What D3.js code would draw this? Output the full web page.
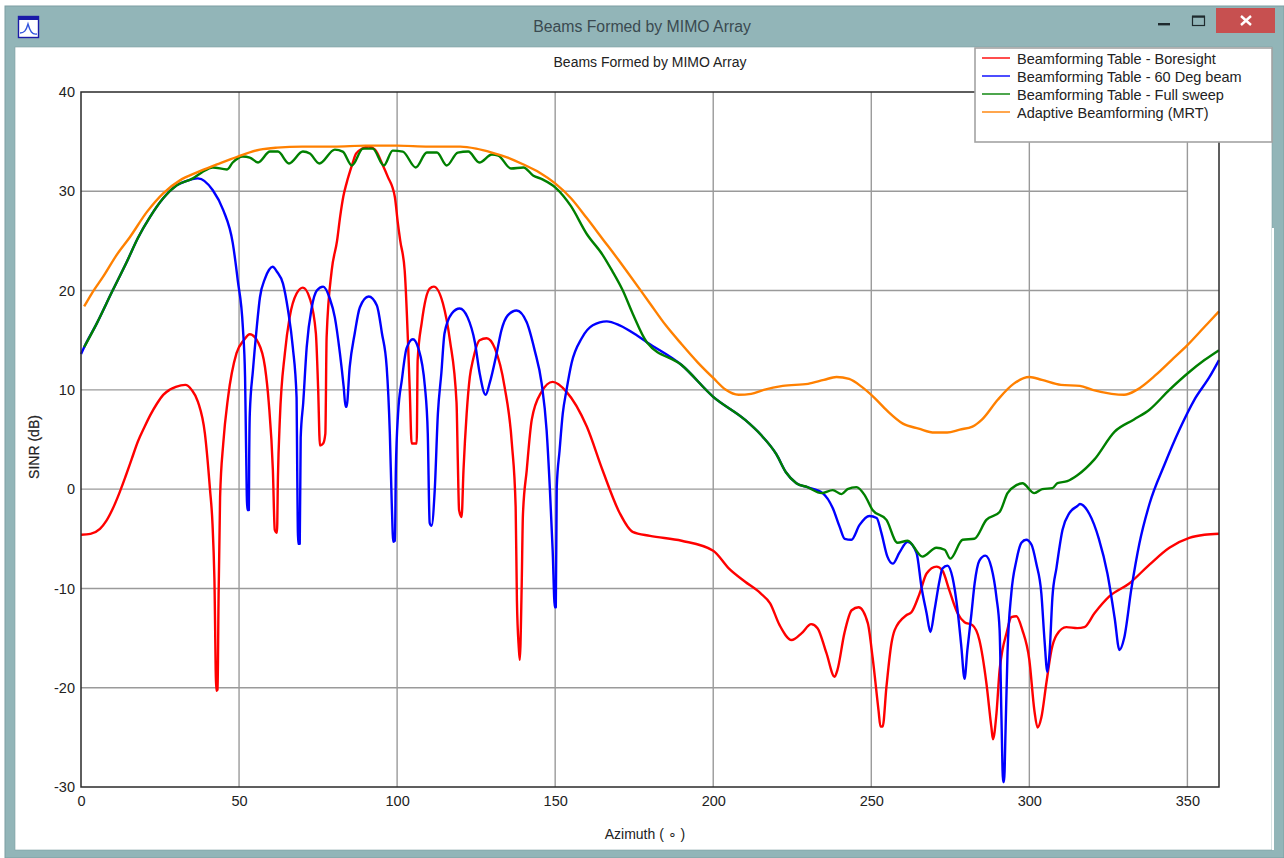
<!DOCTYPE html>
<html>
<head>
<meta charset="utf-8">
<title>Beams Formed by MIMO Array</title>
<script src="https://cdnjs.cloudflare.com/ajax/libs/d3/7.8.5/d3.min.js"></script>
<style>
  html, body { margin: 0; padding: 0; background: #fff; }
  svg { display: block; }
  text { font-family: "Liberation Sans", Arial, sans-serif; }
</style>
</head>
<body>
<div id="chart"></div>
<script>
//Values
var xTicks = [0, 50, 100, 150, 200, 250, 300, 350];
var yTicks = [-30, -20, -10, 0, 10, 20, 30, 40];

var seriesNames = ["Beamforming Table - Boresight", "Beamforming Table - 60 Deg beam", "Beamforming Table - Full sweep", "Adaptive Beamforming (MRT)"];
var seriesColors = ["#ff0000", "#0000ff", "#008000", "#ff8000"];

var redAz = [0, 3, 6, 8, 10, 12, 14, 16, 18, 20, 22, 24, 26, 28, 30, 33, 35, 37, 39.2, 40.8, 41.6, 42.2, 42.8, 43.2, 43.5, 44, 45, 46.5, 49.2, 51.5, 53.4, 56, 58.2, 59.4, 60.7, 61.3, 62, 62.3, 62.9, 64.5, 66, 68.2, 70.2, 72.4, 74.3, 75, 75.6, 76.6, 77.3, 77.7, 79.3, 81, 82, 83, 84, 85.7, 87, 89, 91, 93, 95.5, 97, 99.3, 100.2, 101, 102.4, 104, 104.6, 106.2, 106.5, 107.8, 110.3, 111.6, 114.5, 116.7, 118.8, 119.2, 119.6, 120.4, 121, 122, 123, 124, 126.1, 128.3, 130.9, 134, 136.3, 137.5, 137.9, 138.5, 138.8, 139.4, 139.8, 141, 142.6, 145.7, 149.2, 153.6, 160, 165, 170.4, 174.5, 180, 190, 200, 205, 210, 215, 218, 221, 224.8, 228, 231, 233, 235.8, 238.4, 239.3, 241.5, 243.8, 246, 248.9, 250.4, 252.3, 252.9, 253.6, 254.8, 256.4, 257.4, 261.1, 262.7, 265.3, 267.5, 270.6, 272.5, 274.7, 277.3, 279.5, 282, 284.2, 286.4, 288, 288.5, 289.6, 290.6, 291.5, 292.8, 294.3, 295.9, 297.8, 300, 301.6, 302.6, 303.8, 305.4, 307, 308.6, 311.7, 315.2, 317.4, 320.6, 325.3, 331.6, 338, 344.3, 350.6, 355.4, 360];
var redVal = [-4.6, -4.5, -4, -3.2, -2, -0.5, 1.2, 3, 4.8, 6.2, 7.5, 8.6, 9.5, 10, 10.3, 10.5, 10, 8.8, 5.6, 0, -3.5, -9, -20.3, -20.2, -11.5, -0.8, 4.6, 9.2, 13.7, 15, 15.6, 14.8, 12.3, 8.7, 1.9, -4.1, -4.4, 1.2, 7, 13.7, 17.3, 19.7, 20.3, 19.2, 15.7, 10.3, 4.4, 4.6, 5.6, 15.3, 22, 25, 27.5, 29.5, 30.8, 32.6, 33.8, 34.3, 34.5, 34.2, 32.6, 31.5, 29.4, 26.9, 25, 22, 10, 4.6, 4.6, 13, 16.8, 20.2, 20.4, 18.7, 15, 8.7, 2.9, -2.1, -2.8, 1.9, 7.6, 11.3, 13, 15, 15.2, 14.2, 10.3, 4.6, -1.8, -11.2, -16, -17.2, -9.9, -2.6, 1.9, 7, 9.8, 10.8, 9.8, 6.3, 1.9, -2.4, -4.3, -4.7, -5.2, -6.2, -8, -9.3, -10.5, -11.5, -13.7, -15.2, -14.5, -13.6, -14, -16.5, -18.9, -18.2, -14.5, -12.2, -11.9, -13.5, -16.9, -22.3, -23.9, -23.9, -19.9, -15.5, -14.2, -12.7, -12.4, -10.5, -8.5, -7.8, -8.2, -10.2, -12.5, -13.4, -13.7, -15.2, -19.5, -24, -25.2, -22.6, -18.2, -16.2, -14.5, -12.9, -12.8, -14.2, -17.2, -22.3, -24, -23, -19.5, -16.2, -14.7, -13.9, -14, -13.9, -12.5, -10.8, -9.5, -7.6, -5.9, -4.9, -4.6, -4.5];

var blueAz = [0, 1, 5, 10, 14.5, 18, 21.8, 26, 30.3, 33, 37, 41.7, 45, 48, 49.6, 51.2, 51.9, 52.2, 52.6, 53.1, 53.2, 53.4, 54.4, 55.6, 56.6, 58.2, 59.5, 60.6, 62, 63.9, 65.5, 67, 68.2, 68.4, 68.7, 69.2, 69.5, 70.3, 71.4, 73, 74.6, 76.6, 78.7, 80.3, 81.9, 83.1, 83.7, 84, 85, 86.6, 88.2, 91, 93.6, 95.2, 96.7, 97.7, 98.3, 98.8, 99.3, 99.6, 100.3, 101.5, 103, 105, 106.7, 108.8, 109.7, 110.3, 110.9, 111.9, 112.9, 114, 115, 117.3, 119.8, 122.3, 124.6, 126.1, 128, 129.3, 131.5, 133, 135, 137.8, 141, 143.5, 145.7, 147.3, 148.3, 149.2, 149.9, 150.2, 150.5, 151.4, 152.4, 153.6, 155.2, 158.4, 161.9, 166.3, 170.4, 175.8, 179, 190, 200, 210, 215, 220, 223, 226.3, 229.8, 234.6, 237.8, 240, 241.6, 243.7, 246.3, 249.4, 251.7, 253.2, 255.1, 256.8, 258.9, 261.5, 264.3, 265.9, 267.5, 268.7, 270, 271.6, 272.5, 274.1, 275.7, 277.3, 278.5, 279.5, 280.4, 281.7, 282.7, 284.2, 286.1, 288, 289.6, 290.6, 291.2, 291.7, 292, 292.5, 293.1, 294.3, 295.9, 297.5, 299, 300.7, 302.2, 303.8, 304.8, 305.7, 306.4, 307.3, 308.6, 310.5, 312.7, 315.2, 316, 319, 322, 324.7, 327, 328.5, 330, 332.3, 334.8, 338, 342.8, 347.5, 352.2, 357, 360];
var blueVal = [13.6, 14.3, 16.7, 20, 22.9, 25.3, 27.4, 29.3, 30.6, 31, 31.3, 30.1, 28.1, 24.8, 21, 16.3, 11.3, 4.7, -2.1, -2.1, 2.9, 7.6, 12, 16.3, 19.3, 21.2, 22.1, 22.4, 21.9, 20.7, 18, 14.3, 9.2, 1.9, -5.5, -5.5, 5.2, 8.7, 14.3, 18.3, 20, 20.4, 19.2, 17.3, 13.7, 10.3, 8.3, 8.3, 12.3, 15.7, 18.3, 19.4, 18.5, 15.7, 12.3, 5.6, -1.4, -5.3, -5.2, 1.9, 7.6, 11, 14.2, 15.1, 14.2, 10.3, 5.6, -3.4, -3.7, -0.1, 7.6, 11.7, 15.7, 17.7, 18.2, 17.3, 14.8, 11.7, 9.5, 10.7, 13.7, 16, 17.5, 18, 16.8, 14, 10.7, 5.9, 0.2, -6.1, -11.9, -11.9, 0.2, 3.9, 7.6, 10, 12.7, 15.2, 16.5, 16.9, 16.5, 15.5, 14.8, 12.5, 9.3, 7, 5.5, 3.5, 1.7, 0.6, 0.2, -0.4, -1.9, -3.8, -5, -5.1, -3.6, -2.7, -2.9, -4.4, -6.8, -7.5, -6.4, -5.3, -6.4, -9.9, -12.5, -14.4, -12.2, -9.2, -8, -7.7, -8.9, -12.2, -15.9, -19.1, -16.2, -12.5, -9.5, -7.2, -6.7, -7.9, -10.9, -14.2, -23.3, -29.5, -29.5, -24, -16.5, -10.5, -7.2, -5.4, -5.1, -5.6, -7.5, -10.5, -15.2, -18.4, -16.5, -10.9, -7.9, -4.1, -2.4, -1.7, -1.5, -2.5, -5, -8.5, -13, -16.2, -15, -10, -5.5, -1.5, 2.5, 6, 9, 11.3, 13];

var greenAz = [1, 5, 10, 14.5, 18, 21.8, 26, 30.3, 35.4, 38.2, 41.7, 46.2, 48, 51.2, 53.4, 56, 59.8, 62.3, 65.8, 70.2, 72.4, 75.4, 80.3, 82.8, 85.7, 89.2, 92.3, 95.8, 98.6, 101.8, 105.9, 109.4, 112.6, 115.7, 119.2, 122.5, 126, 130, 132, 136, 140, 143, 146, 150, 155, 160, 165, 168, 171.4, 174.5, 179, 190, 200, 210, 215, 220, 223, 226.3, 229.8, 234.3, 237.8, 240.6, 242.5, 245.3, 247.9, 250.4, 254.8, 258.3, 261.5, 266.2, 270.6, 273.2, 275, 278.9, 282.6, 286.4, 290.6, 293.1, 295.9, 297.8, 301.6, 304.1, 307.3, 308.9, 312, 315.2, 320.6, 327, 333, 338, 344.3, 350.6, 355.4, 360];
var greenVal = [14.3, 16.7, 20, 22.9, 25.3, 27.4, 29.3, 30.6, 31.3, 31.9, 32.4, 32.2, 32.9, 33.5, 33.4, 32.9, 34, 34, 32.8, 34, 33.8, 32.8, 34.2, 34, 32.6, 34.3, 34.3, 32.6, 34.1, 34, 32.4, 33.9, 33.9, 32.6, 33.9, 34, 32.9, 33.7, 33.6, 32.3, 32.4, 31.6, 31.2, 30.4, 28.5, 25.7, 23.6, 22, 20, 17.7, 14.8, 12.5, 9.3, 7, 5.5, 3.5, 1.7, 0.6, 0.2, -0.4, -0.1, -0.5, 0, 0.2, -0.6, -2.1, -3.1, -5.4, -5.2, -6.8, -5.9, -6.1, -7, -5.1, -5, -3.1, -2.3, -0.4, 0.4, 0.6, -0.4, 0, 0.1, 0.6, 0.8, 1.4, 3, 5.8, 7, 8, 10, 11.8, 13, 14];

var orangeAz = [1, 3.4, 7, 11.3, 15.5, 20.8, 26, 31.3, 36.7, 43, 49.6, 56.6, 62, 70, 80, 90, 100, 110, 120, 125, 130, 135, 140, 145, 150, 155, 160, 165, 170, 173, 180, 185, 190, 195, 200, 204, 208, 212, 216, 222, 230, 235, 239, 243, 247, 251, 255, 260, 265, 270, 274, 278, 282, 285, 290, 295, 300, 304, 310, 316, 320, 326, 330, 334, 340, 345, 350, 355, 360];
var orangeVal = [18.4, 19.7, 21.4, 23.6, 25.4, 27.9, 29.8, 31.1, 31.9, 32.7, 33.5, 34.2, 34.4, 34.5, 34.5, 34.6, 34.6, 34.5, 34.5, 34.3, 33.9, 33.4, 32.7, 31.9, 30.8, 29.3, 27.3, 25.2, 23.1, 21.8, 18.7, 16.5, 14.6, 12.8, 11.2, 10, 9.5, 9.6, 10, 10.4, 10.6, 11, 11.3, 11.1, 10.3, 9.2, 7.9, 6.6, 6.1, 5.7, 5.7, 6, 6.3, 7, 9, 10.6, 11.3, 11, 10.5, 10.4, 10, 9.6, 9.5, 10, 11.5, 13, 14.5, 16.2, 17.9];

var seriesAz = [redAz, blueAz, greenAz, orangeAz];
var seriesVal = [redVal, blueVal, greenVal, orangeVal];

//Chart parameters
var svgWidth = 1284;
var svgHeight = 858;
var plot = { left: 81, right: 1219, top: 92, bottom: 787 };
var frameColor = "#92b5b8";
var gridColor = "#9a9a9a";
var textColor = "#222";

var svg = d3.select("#chart")
  .append("svg")
  .attr("width", svgWidth)
  .attr("height", svgHeight);

//Window frame behind the plot
svg.append("rect").attr("x", 5).attr("y", 6).attr("width", 1279).attr("height", 852)
  .attr("fill", frameColor).attr("stroke", "#7d9ea2");
svg.append("rect").attr("x", 15).attr("y", 47).attr("width", 1257).attr("height", 803)
  .attr("fill", "#fff").attr("stroke", "#7d9ea2").attr("stroke-width", 0.6);
svg.append("rect").attr("x", 1272).attr("y", 228).attr("width", 2).attr("height", 622).attr("fill", "#fff");

//Title bar
svg.append("text").attr("x", 642).attr("y", 32).attr("text-anchor", "middle")
  .attr("font-size", 15.8).attr("fill", "#3a4a50").text("Beams Formed by MIMO Array");

svg.append("rect").attr("x", 1216).attr("y", 8).attr("width", 59).attr("height", 25).attr("fill", "#c75050");
svg.append("path").attr("d", "M1241,16L1251,25M1251,16L1241,25").attr("stroke", "#fff").attr("stroke-width", 2.4).attr("fill", "none");
svg.append("rect").attr("x", 1158).attr("y", 23).attr("width", 12).attr("height", 2.4).attr("fill", "#1f2a2e");
svg.append("rect").attr("x", 1192.5).attr("y", 16.5).attr("width", 12).attr("height", 9)
  .attr("fill", "none").attr("stroke", "#1f2a2e").attr("stroke-width", 1.2);
svg.append("rect").attr("x", 1192).attr("y", 15.5).attr("width", 13).attr("height", 2.2).attr("fill", "#1f2a2e");

//Small app icon
var icon = svg.append("g").attr("transform", "translate(18,16)");
icon.append("rect").attr("x", 0.5).attr("y", 0.5).attr("width", 20).attr("height", 21)
  .attr("fill", "#fff").attr("stroke", "#1a1aa8").attr("stroke-width", 1.4);
icon.append("rect").attr("x", 1).attr("y", 1).attr("width", 19).attr("height", 3).attr("fill", "#1a1aa8");
icon.append("path").attr("d", "M2,17C6,17 8,15 10,8C12,15 14,19 19,18")
  .attr("fill", "none").attr("stroke", "#3355dd").attr("stroke-width", 1.4);

//Scales and axes
var xScale = d3.scaleLinear().domain([0, 360]).range([plot.left, plot.right]);
var yScale = d3.scaleLinear().domain([-30, 40]).range([plot.bottom, plot.top]);

var bottomAxis = d3.axisBottom(xScale).tickValues(xTicks).tickSize(0).tickPadding(9);
//plain hyphen on the negative labels, like the original
var leftAxis = d3.axisLeft(yScale).tickValues(yTicks).tickSize(0).tickPadding(6).tickFormat(d => String(d));

//Grid lines, the 30 dB one stops at the 350 line in the original
svg.append("g").selectAll("line").data(xTicks.slice(1)).enter().append("line")
  .attr("x1", d => xScale(d)).attr("x2", d => xScale(d))
  .attr("y1", plot.top).attr("y2", plot.bottom)
  .attr("stroke", gridColor).attr("stroke-width", 1.4);

svg.append("g").selectAll("line").data(yTicks.slice(1, -1)).enter().append("line")
  .attr("x1", plot.left)
  .attr("x2", d => d === 30 ? xScale(350) : plot.right)
  .attr("y1", d => yScale(d)).attr("y2", d => yScale(d))
  .attr("stroke", gridColor).attr("stroke-width", 1.4);

//Lines, in the drawing order of the original
var line = d3.line()
  .x(d => xScale(d[0]))
  .y(d => yScale(d[1]))
  .curve(d3.curveMonotoneX);

seriesNames.forEach(function(name, i) {
  svg.append("path")
    .datum(d3.zip(seriesAz[i], seriesVal[i]))
    .attr("fill", "none")
    .attr("stroke", seriesColors[i])
    .attr("stroke-width", 2.4)
    .attr("stroke-linejoin", "round")
    .attr("d", line);
});

//Plot border
svg.append("rect")
  .attr("x", plot.left).attr("y", plot.top)
  .attr("width", plot.right - plot.left).attr("height", plot.bottom - plot.top)
  .attr("fill", "none").attr("stroke", "#2a2a2a").attr("stroke-width", 1.5);

var xAxisGroup = svg.append("g")
  .attr("transform", `translate(0,${plot.bottom})`)
  .call(bottomAxis);
var yAxisGroup = svg.append("g")
  .attr("transform", `translate(${plot.left},0)`)
  .call(leftAxis);

[xAxisGroup, yAxisGroup].forEach(function(g) {
  g.select(".domain").remove();
  g.selectAll("text")
    .attr("font-size", 14.5)
    .attr("font-family", "\"Liberation Sans\", Arial, sans-serif")
    .attr("fill", textColor);
});

//Titles
svg.append("text").attr("x", 650).attr("y", 67).attr("text-anchor", "middle")
  .attr("font-size", 14).attr("fill", textColor).text("Beams Formed by MIMO Array");
svg.append("text").attr("x", 645).attr("y", 839).attr("text-anchor", "middle")
  .attr("font-size", 14).attr("fill", textColor).text("Azimuth ( \u2218 )");
svg.append("text")
  .attr("transform", "translate(39,447) rotate(-90)")
  .attr("text-anchor", "middle")
  .attr("font-size", 14).attr("fill", textColor).attr("stroke", textColor).attr("stroke-width", 0.2)
  .text("SINR (dB)");

//Legend box sits on top of the plot
var legend = svg.append("g");
legend.append("rect").attr("x", 975).attr("y", 48).attr("width", 297).attr("height", 94)
  .attr("fill", "#fff").attr("stroke", "#a3a3a3").attr("stroke-width", 1.6);

var legendRows = legend.selectAll("g").data(seriesNames).enter().append("g")
  .attr("transform", (d, i) => `translate(0,${58 + i * 18})`);
legendRows.append("line")
  .attr("x1", 982).attr("x2", 1010)
  .attr("stroke", (d, i) => seriesColors[i]).attr("stroke-width", 1.4);
legendRows.append("text")
  .attr("x", 1017).attr("y", 5.5)
  .attr("font-size", 14.5).attr("fill", textColor)
  .text(d => d);
</script>
</body>
</html>
